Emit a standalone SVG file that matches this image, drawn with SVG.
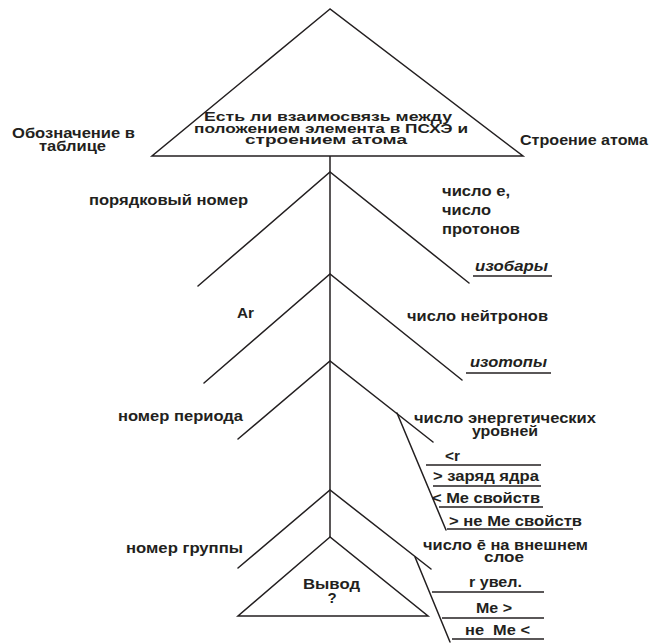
<svg xmlns="http://www.w3.org/2000/svg" width="654" height="643" viewBox="0 0 654 643">
<style>
.ln{stroke:#231f20;stroke-width:1.5;fill:none;stroke-linecap:round;stroke-linejoin:miter}
.sh{stroke:#231f20;stroke-width:1.5;fill:#fff}
text{font-family:"Liberation Sans",Arial,sans-serif;font-weight:bold;font-size:15px;fill:#231f20}
.t{font-size:13px}
.s{font-size:14px}
.i{font-style:italic}
.u{stroke:#231f20;stroke-width:1.5}
</style>
<rect width="654" height="643" fill="#fff"/>
<g id="connectors">
<line class="ln" x1="330" y1="156" x2="330" y2="537"/>
<polyline class="ln" points="198,286 330,172 469,283"/>
<polyline class="ln" points="204,383 330,274 462,380"/>
<polyline class="ln" points="238,439 330,361 433,442"/>
<line class="ln" x1="397" y1="413" x2="446" y2="530"/>
<polyline class="ln" points="238,568 330,490 431,569"/>
<line class="ln" x1="415" y1="557" x2="450" y2="642"/>
</g>
<g id="question">
<polygon class="sh" points="330,9 152,156 523,156"/>
<text class="t" x="204" y="121" textLength="248" lengthAdjust="spacingAndGlyphs">Есть ли взаимосвязь между</text>
<text class="t" x="194" y="133" textLength="274" lengthAdjust="spacingAndGlyphs">положением элемента в ПСХЭ и</text>
<text class="t" x="245" y="144" textLength="162" lengthAdjust="spacingAndGlyphs">строением атома</text>
</g>
<g id="left-title">
<text class="s" x="12" y="138" textLength="123" lengthAdjust="spacingAndGlyphs">Обозначение в</text>
<text class="s" x="39" y="151" textLength="67" lengthAdjust="spacingAndGlyphs">таблице</text>
</g>
<g id="right-title">
<text x="520" y="145" textLength="128" lengthAdjust="spacingAndGlyphs">Строение атома</text>
</g>
<g id="ordinal">
<text x="89" y="205" textLength="159" lengthAdjust="spacingAndGlyphs">порядковый номер</text>
</g>
<g id="electrons-protons">
<text x="442" y="196" textLength="68" lengthAdjust="spacingAndGlyphs">число е,</text>
<text x="442" y="215" textLength="49" lengthAdjust="spacingAndGlyphs">число</text>
<text x="442" y="234" textLength="78" lengthAdjust="spacingAndGlyphs">протонов</text>
</g>
<g id="isobars">
<text class="i" x="475" y="271" textLength="73" lengthAdjust="spacingAndGlyphs">изобары</text>
<line class="u" x1="473" y1="276" x2="552" y2="276"/>
</g>
<g id="ar">
<text x="237" y="318" textLength="17" lengthAdjust="spacingAndGlyphs">Ar</text>
</g>
<g id="neutrons">
<text x="407" y="321" textLength="141" lengthAdjust="spacingAndGlyphs">число нейтронов</text>
</g>
<g id="isotopes">
<text class="i" x="470" y="367" textLength="77" lengthAdjust="spacingAndGlyphs">изотопы</text>
<line class="u" x1="466" y1="373" x2="551" y2="373"/>
</g>
<g id="period">
<text x="118" y="421" textLength="125" lengthAdjust="spacingAndGlyphs">номер периода</text>
</g>
<g id="levels">
<text class="s" x="414" y="423" textLength="182" lengthAdjust="spacingAndGlyphs">число энергетических</text>
<text class="s" x="472" y="436" textLength="66" lengthAdjust="spacingAndGlyphs">уровней</text>
</g>
<g id="period-trends">
<text x="445" y="461" textLength="15" lengthAdjust="spacingAndGlyphs">&lt;r</text>
<line class="u" x1="426" y1="465" x2="541" y2="465"/>
<text x="433" y="481" textLength="106" lengthAdjust="spacingAndGlyphs">&gt; заряд ядра</text>
<line class="u" x1="433" y1="486" x2="541" y2="486"/>
<text x="432" y="503" textLength="108" lengthAdjust="spacingAndGlyphs">&lt; Ме свойств</text>
<line class="u" x1="439" y1="507" x2="543" y2="507"/>
<text x="449" y="526" textLength="133" lengthAdjust="spacingAndGlyphs">&gt; не Ме свойств</text>
<line class="u" x1="447" y1="529" x2="573" y2="529"/>
</g>
<g id="group">
<text x="126" y="553" textLength="117" lengthAdjust="spacingAndGlyphs">номер группы</text>
</g>
<g id="outer-electrons">
<text class="s" x="423" y="550" textLength="165" lengthAdjust="spacingAndGlyphs">число ē на внешнем</text>
<text class="s" x="484" y="562" textLength="40" lengthAdjust="spacingAndGlyphs">слое</text>
</g>
<g id="group-trends">
<text x="469" y="587" textLength="53" lengthAdjust="spacingAndGlyphs">r увел.</text>
<line class="u" x1="432" y1="592" x2="544" y2="592"/>
<text x="476" y="613" textLength="36" lengthAdjust="spacingAndGlyphs">Ме &gt;</text>
<line class="u" x1="442" y1="618" x2="544" y2="618"/>
<text x="465" y="635" textLength="65" lengthAdjust="spacingAndGlyphs" xml:space="preserve">не  Ме &lt;</text>
<line class="u" x1="452" y1="639" x2="544" y2="639"/>
</g>
<g id="conclusion">
<polygon class="sh" points="330,537 238,616 428,616"/>
<text x="303" y="589" textLength="57" lengthAdjust="spacingAndGlyphs">Вывод</text>
<text x="332" y="603" text-anchor="middle">?</text>
</g>
</svg>
